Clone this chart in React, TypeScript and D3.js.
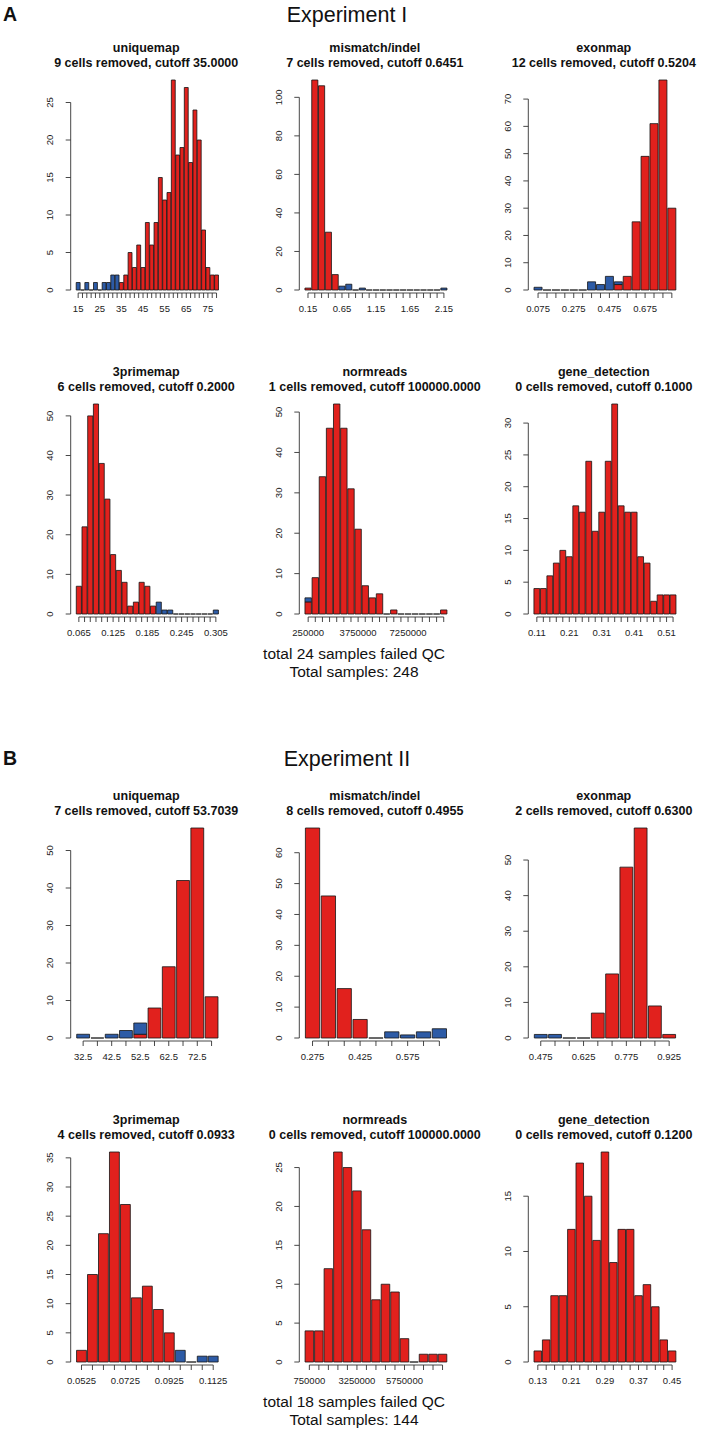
import React from "react";
import * as d3 from "d3";

// ---------- Experiment I ----------
const e1UniqueBins = ["15","17","19","21","23","25","27","29","31","33","35","37","39","41","43","45","47","49","51","53","55","57","59","61","63","65","67","69","71","73","75","77","79"];
const e1UniqueKept = [0,0,0,0,0,0,0,0,0,0,1,2,5,3,6,3,9,6,9,15,12,13,28,18,19,27,17,24,20,8,3,2,2];
const e1UniqueRemoved = [1,0,1,0,1,0,1,1,2,2,0,0,0,0,0,0,0,0,0,0,0,0,0,0,0,0,0,0,0,0,0,0,0];
const e1UniqueLabels = ["15","25","35","45","55","65","75"];
const e1UniqueYTicks = [0,5,10,15,20,25];

const e1MisBins = ["0.15","0.25","0.35","0.45","0.55","0.65","0.75","0.85","0.95","1.05","1.15","1.25","1.35","1.45","1.55","1.65","1.75","1.85","1.95","2.05","2.15"];
const e1MisKept = [1,109,106,30,8,0,0,0,0,0,0,0,0,0,0,0,0,0,0,0,0];
const e1MisRemoved = [0,0,0,0,0,2,3,0,1,0,0,0,0,0,0,0,0,0,0,0,1];
const e1MisLabels = ["0.15","0.65","1.15","1.65","2.15"];
const e1MisYTicks = [0,20,40,60,80,100];

const e1ExonBins = ["0.075","0.125","0.175","0.225","0.275","0.325","0.375","0.425","0.475","0.525","0.575","0.625","0.675","0.725","0.775","0.825"];
const e1ExonKept = [0,0,0,0,0,0,0,0,0,2,5,25,49,61,77,30];
const e1ExonRemoved = [1,0,0,0,0,0,3,2,5,1,0,0,0,0,0,0];
const e1ExonLabels = ["0.075","0.275","0.475","0.675"];
const e1ExonYTicks = [0,10,20,30,40,50,60,70];

const e1ThreeBins = ["0.065","0.075","0.085","0.095","0.105","0.115","0.125","0.135","0.145","0.155","0.165","0.175","0.185","0.195","0.205","0.215","0.225","0.235","0.245","0.255","0.265","0.275","0.285","0.295","0.305"];
const e1ThreeKept = [7,22,50,53,38,29,15,11,8,2,3,8,7,2,0,0,0,0,0,0,0,0,0,0,0];
const e1ThreeRemoved = [0,0,0,0,0,0,0,0,0,0,0,0,0,0,3,1,1,0,0,0,0,0,0,0,1];
const e1ThreeLabels = ["0.065","0.125","0.185","0.245","0.305"];
const e1ThreeYTicks = [0,10,20,30,40,50];

const e1NormBins = ["250000","750000","1250000","1750000","2250000","2750000","3250000","3750000","4250000","4750000","5250000","5750000","6250000","6750000","7250000","7750000","8250000","8750000","9250000","9750000"];
const e1NormKept = [3,9,34,46,52,46,31,21,7,4,5,0,1,0,0,0,0,0,0,1];
const e1NormRemoved = [1,0,0,0,0,0,0,0,0,0,0,0,0,0,0,0,0,0,0,0];
const e1NormLabels = ["250000","3750000","7250000"];
const e1NormYTicks = [0,10,20,30,40,50];

const e1GeneBins = ["0.11","0.13","0.15","0.17","0.19","0.21","0.23","0.25","0.27","0.29","0.31","0.33","0.35","0.37","0.39","0.41","0.43","0.45","0.47","0.49","0.51","0.53"];
const e1GeneKept = [4,4,6,8,10,9,17,16,24,13,16,24,33,17,16,16,9,8,2,3,3,3];
const e1GeneRemoved = [0,0,0,0,0,0,0,0,0,0,0,0,0,0,0,0,0,0,0,0,0,0];
const e1GeneLabels = ["0.11","0.21","0.31","0.41","0.51"];
const e1GeneYTicks = [0,5,10,15,20,25,30];

// ---------- Experiment II ----------
const e2UniqueBins = ["32.5","37.5","42.5","47.5","52.5","57.5","62.5","67.5","72.5","77.5"];
const e2UniqueKept = [0,0,0,0,1,8,19,42,56,11];
const e2UniqueRemoved = [1,0,1,2,3,0,0,0,0,0];
const e2UniqueLabels = ["32.5","42.5","52.5","62.5","72.5"];
const e2UniqueYTicks = [0,10,20,30,40,50];

const e2MisBins = ["0.275","0.325","0.375","0.425","0.475","0.525","0.575","0.625","0.675"];
const e2MisKept = [68,46,16,6,0,0,0,0,0];
const e2MisRemoved = [0,0,0,0,0,2,1,2,3];
const e2MisLabels = ["0.275","0.425","0.575"];
const e2MisYTicks = [0,10,20,30,40,50,60];

const e2ExonBins = ["0.475","0.525","0.575","0.625","0.675","0.725","0.775","0.825","0.875","0.925"];
const e2ExonKept = [0,0,0,0,7,18,48,59,9,1];
const e2ExonRemoved = [1,1,0,0,0,0,0,0,0,0];
const e2ExonLabels = ["0.475","0.625","0.775","0.925"];
const e2ExonYTicks = [0,10,20,30,40,50];

const e2ThreeBins = ["0.0525","0.0575","0.0625","0.0675","0.0725","0.0775","0.0825","0.0875","0.0925","0.0975","0.1025","0.1075","0.1125"];
const e2ThreeKept = [2,15,22,36,27,11,13,9,5,0,0,0,0];
const e2ThreeRemoved = [0,0,0,0,0,0,0,0,0,2,0,1,1];
const e2ThreeLabels = ["0.0525","0.0725","0.0925","0.1125"];
const e2ThreeYTicks = [0,5,10,15,20,25,30,35];

const e2NormBins = ["750000","1250000","1750000","2250000","2750000","3250000","3750000","4250000","4750000","5250000","5750000","6250000","6750000","7250000","7750000"];
const e2NormKept = [4,4,12,27,25,22,17,8,10,9,3,0,1,1,1];
const e2NormRemoved = [0,0,0,0,0,0,0,0,0,0,0,0,0,0,0];
const e2NormLabels = ["750000","3250000","5750000"];
const e2NormYTicks = [0,5,10,15,20,25];

const e2GeneBins = ["0.13","0.15","0.17","0.19","0.21","0.23","0.25","0.27","0.29","0.31","0.33","0.35","0.37","0.39","0.41","0.43","0.45"];
const e2GeneKept = [1,2,6,6,12,18,15,11,19,9,12,12,6,7,5,2,1];
const e2GeneRemoved = [0,0,0,0,0,0,0,0,0,0,0,0,0,0,0,0,0];
const e2GeneLabels = ["0.13","0.21","0.29","0.37","0.45"];
const e2GeneYTicks = [0,5,10,15];

const FONT = "'Liberation Sans', Arial, Helvetica, sans-serif";
const RED = "#E1211D";
const BLUE = "#2D5BA6";
const EDGE = "#141414";
const AXIS = "#333";

type PanelDef = {
  title: string; sub: string; bins: string[]; kept: number[]; removed: number[];
  labels: string[]; yTicks: number[];
};

const COL_AXIS = [70.7, 299.3, 528.3];
const ROW_BASE = [290, 614, 1038, 1362];

function barPath(x0: number, w: number, yb: number, yt: number) {
  return `M${x0},${yb}H${x0 + w}V${yt}H${x0}Z`;
}

function Panel({ p, axisX, base }: { p: PanelDef; axisX: number; base: number }) {
  const totals = p.kept.map((k, i) => k + p.removed[i]);
  const maxV = d3.max(totals) as number;
  const y = d3.scaleLinear().domain([0, maxV]).range([base, base - 210]);
  const x = d3.scaleBand<string>().domain(p.bins).range([axisX + 5.3, axisX + 148]).paddingInner(0.1).paddingOuter(0.05);
  const bw = x.bandwidth();
  const cx = (b: string) => (x(b) as number) + bw / 2;
  const first = cx(p.bins[0]);
  const last = cx(p.bins[p.bins.length - 1]);
  const yT = p.yTicks;
  const titleX = axisX + 75.5;
  return (
    <g>
      <text x={titleX} y={base - 238} textAnchor="middle" fontFamily={FONT} fontWeight="bold" fontSize={12.5} fill="#111">{p.title}</text>
      <text x={titleX} y={base - 223} textAnchor="middle" fontFamily={FONT} fontWeight="bold" fontSize={12.5} fill="#111">{p.sub}</text>
      {p.bins.map((b, i) => {
        const x0 = x(b) as number;
        const k = p.kept[i];
        const r = p.removed[i];
        return (
          <g key={b}>
            {(k > 0 || r === 0) && (
              <path d={barPath(x0, bw, y(0), y(k))} fill={RED} stroke={EDGE} strokeWidth={0.8} />
            )}
            {r > 0 && (
              <path d={barPath(x0, bw, y(k), y(k + r))} fill={BLUE} stroke={EDGE} strokeWidth={0.8} />
            )}
          </g>
        );
      })}
      {/* y axis */}
      <line x1={axisX} x2={axisX} y1={y(yT[0])} y2={y(yT[yT.length - 1])} stroke={AXIS} strokeWidth={0.9} />
      {yT.map((t) => (
        <g key={t}>
          <line x1={axisX - 5} x2={axisX} y1={y(t)} y2={y(t)} stroke={AXIS} strokeWidth={0.9} />
          <text transform={`translate(${axisX - 17.4},${y(t)}) rotate(-90)`} textAnchor="middle" fontFamily={FONT} fontSize={9.5} fill="#222">{t}</text>
        </g>
      ))}
      {/* x axis */}
      <line x1={first} x2={last} y1={base + 3} y2={base + 3} stroke={AXIS} strokeWidth={0.9} />
      {p.bins.map((b) => (
        <line key={"t" + b} x1={cx(b)} x2={cx(b)} y1={base + 3} y2={base + 8} stroke={AXIS} strokeWidth={0.9} />
      ))}
      {p.labels.map((l) => (
        <text key={"l" + l} x={cx(l)} y={base + 21.5} textAnchor="middle" fontFamily={FONT} fontSize={9.5} fill="#222">{l}</text>
      ))}
    </g>
  );
}

const exp1: PanelDef[] = [
  { title: "uniquemap", sub: "9 cells removed, cutoff 35.0000", bins: e1UniqueBins, kept: e1UniqueKept, removed: e1UniqueRemoved, labels: e1UniqueLabels, yTicks: e1UniqueYTicks },
  { title: "mismatch/indel", sub: "7 cells removed, cutoff 0.6451", bins: e1MisBins, kept: e1MisKept, removed: e1MisRemoved, labels: e1MisLabels, yTicks: e1MisYTicks },
  { title: "exonmap", sub: "12 cells removed, cutoff 0.5204", bins: e1ExonBins, kept: e1ExonKept, removed: e1ExonRemoved, labels: e1ExonLabels, yTicks: e1ExonYTicks },
  { title: "3primemap", sub: "6 cells removed, cutoff 0.2000", bins: e1ThreeBins, kept: e1ThreeKept, removed: e1ThreeRemoved, labels: e1ThreeLabels, yTicks: e1ThreeYTicks },
  { title: "normreads", sub: "1 cells removed, cutoff 100000.0000", bins: e1NormBins, kept: e1NormKept, removed: e1NormRemoved, labels: e1NormLabels, yTicks: e1NormYTicks },
  { title: "gene_detection", sub: "0 cells removed, cutoff 0.1000", bins: e1GeneBins, kept: e1GeneKept, removed: e1GeneRemoved, labels: e1GeneLabels, yTicks: e1GeneYTicks },
];

const exp2: PanelDef[] = [
  { title: "uniquemap", sub: "7 cells removed, cutoff 53.7039", bins: e2UniqueBins, kept: e2UniqueKept, removed: e2UniqueRemoved, labels: e2UniqueLabels, yTicks: e2UniqueYTicks },
  { title: "mismatch/indel", sub: "8 cells removed, cutoff 0.4955", bins: e2MisBins, kept: e2MisKept, removed: e2MisRemoved, labels: e2MisLabels, yTicks: e2MisYTicks },
  { title: "exonmap", sub: "2 cells removed, cutoff 0.6300", bins: e2ExonBins, kept: e2ExonKept, removed: e2ExonRemoved, labels: e2ExonLabels, yTicks: e2ExonYTicks },
  { title: "3primemap", sub: "4 cells removed, cutoff 0.0933", bins: e2ThreeBins, kept: e2ThreeKept, removed: e2ThreeRemoved, labels: e2ThreeLabels, yTicks: e2ThreeYTicks },
  { title: "normreads", sub: "0 cells removed, cutoff 100000.0000", bins: e2NormBins, kept: e2NormKept, removed: e2NormRemoved, labels: e2NormLabels, yTicks: e2NormYTicks },
  { title: "gene_detection", sub: "0 cells removed, cutoff 0.1200", bins: e2GeneBins, kept: e2GeneKept, removed: e2GeneRemoved, labels: e2GeneLabels, yTicks: e2GeneYTicks },
];

const expTitles = ["Experiment I", "Experiment II"];
const expLetters = ["A", "B"];
const failedTexts = ["total 24 samples failed QC", "total 18 samples failed QC"];
const totalTexts = ["Total samples: 248", "Total samples: 144"];

export default function App() {
  const headY = [21, 765];
  const groups = [exp1, exp2];
  return (
    <svg width={709} height={1442} style={{ position: "absolute", left: 0, top: 0, background: "#fff" }}>
      <rect x={0} y={0} width={709} height={1442} fill="#fff" />
      {groups.map((panels, g) => {
        return (
          <g key={g}>
            <text x={3} y={headY[g]} fontFamily={FONT} fontWeight="bold" fontSize={19.5} fill="#111">{expLetters[g]}</text>
            <text x={347} y={headY[g] + 1} textAnchor="middle" fontFamily={FONT} fontSize={21.5} fill="#111">{expTitles[g]}</text>
            {panels.map((p, i) => (
              <Panel key={i} p={p} axisX={COL_AXIS[i % 3]} base={ROW_BASE[g * 2 + Math.floor(i / 3)]} />
            ))}
            <text x={354} y={ROW_BASE[g * 2 + 1] + 45} textAnchor="middle" fontFamily={FONT} fontSize={15.5} fill="#111">{failedTexts[g]}</text>
            <text x={354} y={ROW_BASE[g * 2 + 1] + 63} textAnchor="middle" fontFamily={FONT} fontSize={15.5} fill="#111">{totalTexts[g]}</text>
          </g>
        );
      })}
    </svg>
  );
}
